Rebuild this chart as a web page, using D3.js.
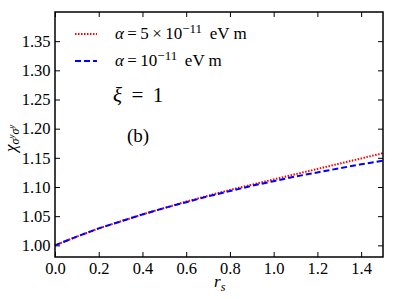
<!DOCTYPE html>
<html><head><meta charset="utf-8">
<script src="https://cdn.jsdelivr.net/npm/d3@7"></script>
<style>body{margin:0;background:#fff}svg{display:block}</style>
</head><body><svg id="c" width="399" height="299"></svg>
<script>
const rs = [0,0.1,0.2,0.3,0.4,0.5,0.6,0.7,0.8,0.9,1.0,1.1,1.2,1.3,1.4,1.5];
const chiRed = [1.000,1.015,1.029,1.041,1.053,1.064,1.075,1.085,1.095,1.104,1.113,1.122,1.131,1.140,1.149,1.158];
const chiBlue = [1.000,1.015,1.029,1.041,1.053,1.064,1.074,1.084,1.093,1.102,1.110,1.118,1.125,1.132,1.139,1.145];
const xTicks = [0,0.2,0.4,0.6,0.8,1.0,1.2,1.4];
const yTicks = [1.00,1.05,1.10,1.15,1.20,1.25,1.30,1.35];

const FF = "'Liberation Serif', 'DejaVu Serif', serif";
const svg = d3.select("#c").attr("font-family",FF);
const L=55, R=383, T=12, B=257;
const x = d3.scaleLinear().domain([0,1.5]).range([L,R]);
const y = d3.scaleLinear().domain([0.98,1.40]).range([B,T]);

const fs = 16.5;
const gx = svg.append("g").attr("transform",`translate(0,${B})`)
  .call(d3.axisBottom(x).tickValues(xTicks).tickFormat(d3.format(".1f")).tickSizeInner(-5).tickSizeOuter(0).tickPadding(5.5));
const gxt = svg.append("g").attr("transform",`translate(0,${T})`)
  .call(d3.axisTop(x).tickValues(xTicks).tickFormat("").tickSizeInner(-5).tickSizeOuter(0));
const gy = svg.append("g").attr("transform",`translate(${L},0)`)
  .call(d3.axisLeft(y).tickValues(yTicks).tickFormat(d3.format(".2f")).tickSizeInner(-5).tickSizeOuter(0).tickPadding(4.5));
const gyr = svg.append("g").attr("transform",`translate(${R},0)`)
  .call(d3.axisRight(y).tickValues(yTicks).tickFormat("").tickSizeInner(-5).tickSizeOuter(0));
[gx,gxt,gy,gyr].forEach(g=>{
  g.attr("font-family",FF).attr("font-size",fs);
  g.select(".domain").remove();
  g.selectAll(".tick line").attr("stroke","#000").attr("stroke-width",1);
  g.selectAll("text").attr("fill","#000");
});

const line = d3.line().x(d=>x(d[0])).y(d=>y(d[1]));
svg.append("path").datum(rs.map((r,i)=>[r,chiRed[i]])).attr("d",line)
  .attr("fill","none").attr("stroke","#ff0000").attr("stroke-width",2).attr("stroke-dasharray","1.5,1.5");
svg.append("path").datum(rs.map((r,i)=>[r,chiBlue[i]])).attr("d",line)
  .attr("fill","none").attr("stroke","#0000ff").attr("stroke-width",2).attr("stroke-dasharray","6,3");

svg.append("rect").attr("x",L).attr("y",T).attr("width",R-L).attr("height",B-T)
  .attr("fill","none").attr("stroke","#000").attr("stroke-width",1.5);

// legend
const lg = svg.append("g");
lg.append("line").attr("x1",75).attr("x2",97).attr("y1",34).attr("y2",34)
  .attr("stroke","#ff0000").attr("stroke-width",2).attr("stroke-dasharray","1.5,1.5");
lg.append("line").attr("x1",75).attr("x2",97).attr("y1",61).attr("y2",61)
  .attr("stroke","#0000ff").attr("stroke-width",2).attr("stroke-dasharray","6,3");
function legendText(yy, mid){
  const t = lg.append("text").attr("x",115).attr("y",yy).attr("font-size",17);
  t.append("tspan").attr("font-style","italic").text("α");
  t.append("tspan").text(mid);
  t.append("tspan").attr("font-size",13).attr("dy",-6).text("−11");
  t.append("tspan").attr("dy",6).text("\u2009 eV m");
}
legendText(39, "\u2009=\u20095\u2009×\u200910");
legendText(66, "\u2009=\u200910");

const xi = svg.append("text").attr("x",113).attr("y",102).attr("font-size",21);
xi.append("tspan").attr("font-style","italic").text("ξ");
xi.append("tspan").text("\u2009 = \u20091");
svg.append("text").attr("x",127).attr("y",142).attr("font-size",19).text("(b)");

// axis labels
const xl = svg.append("text").attr("x",214).attr("y",287).attr("font-size",17);
xl.append("tspan").attr("font-style","italic").text("r");
xl.append("tspan").attr("font-style","italic").attr("font-size",12).attr("dy",4).text("s");

const yl = svg.append("text").attr("transform","translate(16,152) rotate(-90)").attr("font-size",17);
yl.append("tspan").attr("font-style","italic").text("χ");
yl.append("tspan").attr("font-style","italic").attr("font-size",12).attr("dy",3).text("σ");
yl.append("tspan").attr("font-style","italic").attr("font-size",9).attr("dy",-5).text("y");
yl.append("tspan").attr("font-style","italic").attr("font-size",12).attr("dy",5).text("σ");
yl.append("tspan").attr("font-style","italic").attr("font-size",9).attr("dy",-5).text("y");
</script></body></html>
